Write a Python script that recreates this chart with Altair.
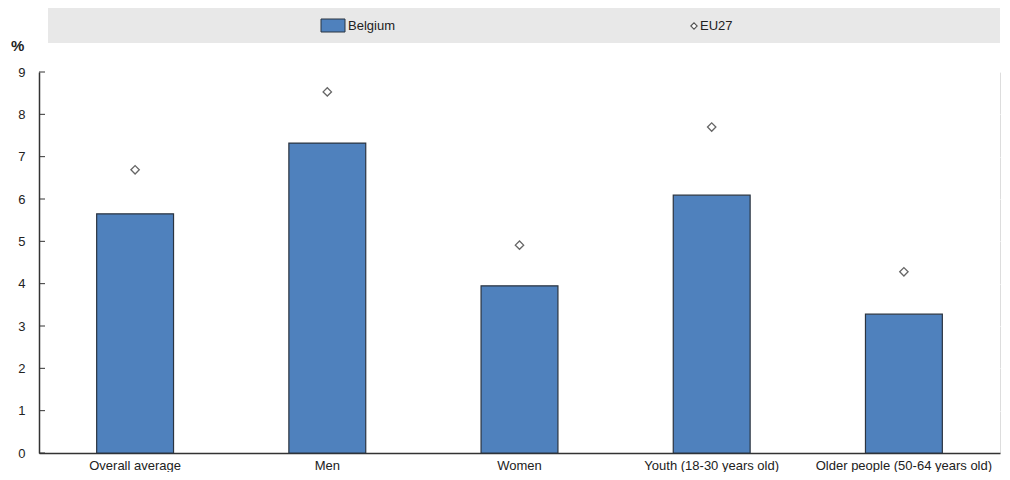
import altair as alt
import pandas as pd

categories = ["Overall average", "Men", "Women", "Youth (18-30 years old)", "Older people (50-64 years old)"]
belgium = [5.65, 7.32, 3.95, 6.09, 3.28]
eu27 = [6.69, 8.53, 4.91, 7.70, 4.28]
y_ticks = [0, 1, 2, 3, 4, 5, 6, 7, 8, 9]

df = pd.DataFrame({"cat": categories, "Belgium": belgium, "EU27": eu27})
FONT = "Liberation Sans"
W = 961
H = 381

xenc = alt.X("cat:N", sort=categories, title=None,
             scale=alt.Scale(paddingInner=0.6, paddingOuter=0.3),
             axis=alt.Axis(labelAngle=0, labelFont=FONT, labelFontSize=13, labelColor="#222",
                           ticks=False, domain=True, domainColor="#333", domainWidth=1.5,
                           grid=True, bandPosition=0,
                           gridColor="#ffffff", gridWidth=1, labelPadding=6))
yscale = alt.Scale(domain=[0, 9], nice=False)

bars = alt.Chart(df).mark_bar(color="#4F81BD", stroke="#2b3440", strokeWidth=1.2).encode(
    x=xenc,
    y=alt.Y("Belgium:Q", scale=yscale, title=None,
            axis=alt.Axis(values=y_ticks, labelFont=FONT, labelFontSize=13, labelColor="#222",
                          ticks=False, domain=True, domainColor="#333", domainWidth=1.5,
                          grid=True, gridColor="#ffffff", gridWidth=1, labelPadding=14)),
)

points = alt.Chart(df).mark_point(shape="diamond", filled=True, fill="white", stroke="#666",
                                  strokeWidth=1.3, size=70, opacity=1).encode(
    x=alt.X("cat:N", sort=categories),
    y=alt.Y("EU27:Q", scale=yscale),
)

ytick_df = pd.DataFrame({"v": y_ticks})
yticks = alt.Chart(ytick_df).mark_rule(color="#333", strokeWidth=1).encode(
    y=alt.Y("v:Q", scale=yscale), x=alt.value(0), x2=alt.value(6))

# legend decorations
leg_df = pd.DataFrame({"a": [0]})
leg_bg = alt.Chart(leg_df).mark_rect(color="#e8e8e8").encode(
    x=alt.value(9), x2=alt.value(W), y=alt.value(-64), y2=alt.value(-29))
leg_sw = alt.Chart(leg_df).mark_rect(color="#4F81BD", stroke="#2b3440", strokeWidth=1).encode(
    x=alt.value(282), x2=alt.value(306), y=alt.value(-53), y2=alt.value(-40))
leg_t1 = alt.Chart(leg_df).mark_text(text="Belgium", font=FONT, fontSize=13, align="left",
                                     baseline="middle", color="#222").encode(
    x=alt.value(309), y=alt.value(-46))
leg_dm = alt.Chart(leg_df).mark_point(shape="diamond", filled=True, fill="white", stroke="#555",
                                      strokeWidth=1.1, size=40, opacity=1).encode(
    x=alt.value(655), y=alt.value(-46))
leg_t2 = alt.Chart(leg_df).mark_text(text="EU27", font=FONT, fontSize=13, align="left",
                                     baseline="middle", color="#222").encode(
    x=alt.value(661), y=alt.value(-46))
pct = alt.Chart(leg_df).mark_text(text="%", font=FONT, fontSize=15, fontWeight="bold",
                                  align="left", baseline="middle", color="#222").encode(
    x=alt.value(-28), y=alt.value(-26))

chart = alt.layer(leg_bg, leg_sw, leg_t1, leg_dm, leg_t2, pct, bars, points, yticks).properties(
    width=W, height=H,
    autosize=alt.AutoSizeParams(type="none"),
    padding={"left": 31, "top": 64, "right": 2, "bottom": 19},
).configure_view(fill="#F2FCFF", stroke="#333", strokeWidth=1.5).configure(background="white")

chart.save("out.html", embed_options={"renderer": "svg", "actions": False})
